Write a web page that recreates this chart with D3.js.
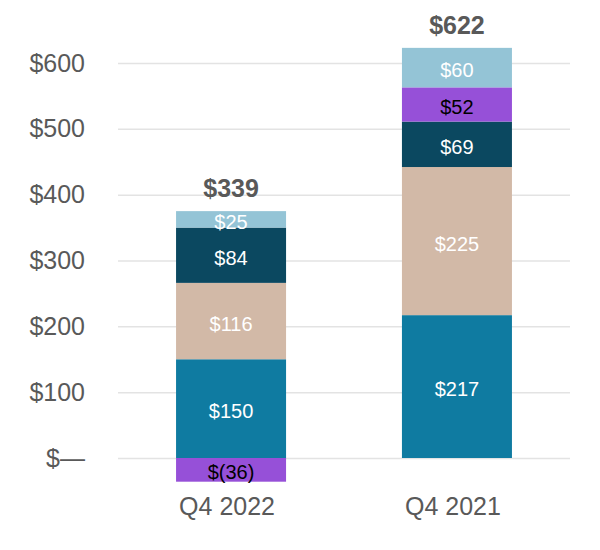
<!DOCTYPE html>
<html lang="en">
<head>
  <meta charset="utf-8">
  <script src="https://d3js.org/d3.v7.min.js"></script>
  <style>
    body { margin: 0; background: #fff; }
    text { font-family: "Liberation Sans", Arial, sans-serif; }
  </style>
</head>
<body>
  <script type="text/javascript">
    // chart data
    var quarters = ["Q4 2022", "Q4 2021"];
    var segments = ["teal", "tan", "navy", "purple", "lightblue"];
    var tealValues = [150, 217];
    var tanValues = [116, 225];
    var navyValues = [84, 69];
    var purpleValues = [-36, 52];
    var lightblueValues = [25, 60];
    var totals = [339, 622];
    var yTicks = [0, 100, 200, 300, 400, 500, 600];

    var colors = {
      teal: "#0f7ba1",
      tan: "#d2b9a7",
      navy: "#0b4860",
      purple: "#9650d8",
      lightblue: "#94c4d6"
    };
    var labelColors = {
      teal: "#fff",
      tan: "#fff",
      navy: "#fff",
      purple: "#000",
      lightblue: "#fff"
    };

    // rows for d3.stack
    var rows = quarters.map(function(q, i) {
      return {
        quarter: q,
        teal: tealValues[i],
        tan: tanValues[i],
        navy: navyValues[i],
        purple: purpleValues[i],
        lightblue: lightblueValues[i]
      };
    });

    var dim = {
      width: 600,
      height: 550,
      left: 118,
      right: 570,
      zeroY: 458,
      topY: 63
    };

    var svg = d3.select("body")
      .append("svg")
      .attr("width", dim.width)
      .attr("height", dim.height);

    var x = d3.scaleBand()
      .domain(quarters)
      .range([dim.left, dim.right])
      .paddingInner(0.513)
      .paddingOuter(0.257);

    var y = d3.scaleLinear()
      .domain([0, 600])
      .range([dim.zeroY, dim.topY]);

    function money(v) {
      if (v === 0) return "$\u2014";
      return v < 0 ? "$(" + Math.abs(v) + ")" : "$" + v;
    }

    // gridlines + y labels
    var yAxis = d3.axisLeft(y)
      .tickValues(yTicks)
      .tickSize(-(dim.right - dim.left))
      .tickPadding(33)
      .tickFormat(money);

    var gy = svg.append("g")
      .attr("transform", "translate(" + dim.left + ",0)")
      .call(yAxis);
    gy.select(".domain").remove();
    gy.selectAll("line")
      .attr("stroke", "#e3e3e3")
      .attr("stroke-width", 1.5);
    gy.selectAll("text")
      .attr("fill", "#595959")
      .style("font-size", "25px")
      .style("font-family", "'Liberation Sans', Arial, sans-serif");

    // stacked bars
    var stack = d3.stack()
      .keys(segments)
      .offset(d3.stackOffsetDiverging);
    var series = stack(rows);

    var layer = svg.selectAll(".layer")
      .data(series)
      .enter()
      .append("g")
      .attr("class", "layer");

    layer.selectAll("rect")
      .data(function(s) {
        return s.map(function(d) { return { key: s.key, d: d }; });
      })
      .enter()
      .append("rect")
      .attr("x", function(p) { return x(p.d.data.quarter); })
      .attr("width", x.bandwidth())
      .attr("y", function(p) { return y(Math.max(p.d[0], p.d[1])); })
      .attr("height", function(p) { return Math.abs(y(p.d[0]) - y(p.d[1])); })
      .attr("fill", function(p) { return colors[p.key]; });

    // segment labels
    layer.selectAll("text")
      .data(function(s) {
        return s.map(function(d) { return { key: s.key, d: d }; });
      })
      .enter()
      .append("text")
      .attr("x", function(p) { return x(p.d.data.quarter) + x.bandwidth() / 2; })
      .attr("y", function(p) { return (y(p.d[0]) + y(p.d[1])) / 2; })
      .attr("dy", "0.48em")
      .attr("text-anchor", "middle")
      .attr("fill", function(p) { return labelColors[p.key]; })
      .style("font-size", "20px")
      .text(function(p) { return money(p.d.data[p.key]); });

    // totals above bars
    svg.selectAll(".total")
      .data(rows)
      .enter()
      .append("text")
      .attr("class", "total")
      .attr("x", function(r) { return x(r.quarter) + x.bandwidth() / 2; })
      .attr("y", function(r) {
        var top = d3.sum(segments, function(k) { return Math.max(0, r[k]); });
        return y(top) - 14;
      })
      .attr("text-anchor", "middle")
      .attr("fill", "#595959")
      .style("font-size", "25px")
      .style("font-weight", "bold")
      .text(function(r, i) { return money(totals[i]); });

    // x labels
    var xAxis = d3.axisBottom(x).tickSize(0).tickPadding(0);
    var gx = svg.append("g")
      .attr("transform", "translate(-4,497)")
      .call(xAxis);
    gx.select(".domain").remove();
    gx.selectAll("text")
      .attr("fill", "#595959")
      .attr("dy", "0.71em")
      .style("font-size", "25px")
      .style("font-family", "'Liberation Sans', Arial, sans-serif");
  </script>
</body>
</html>
